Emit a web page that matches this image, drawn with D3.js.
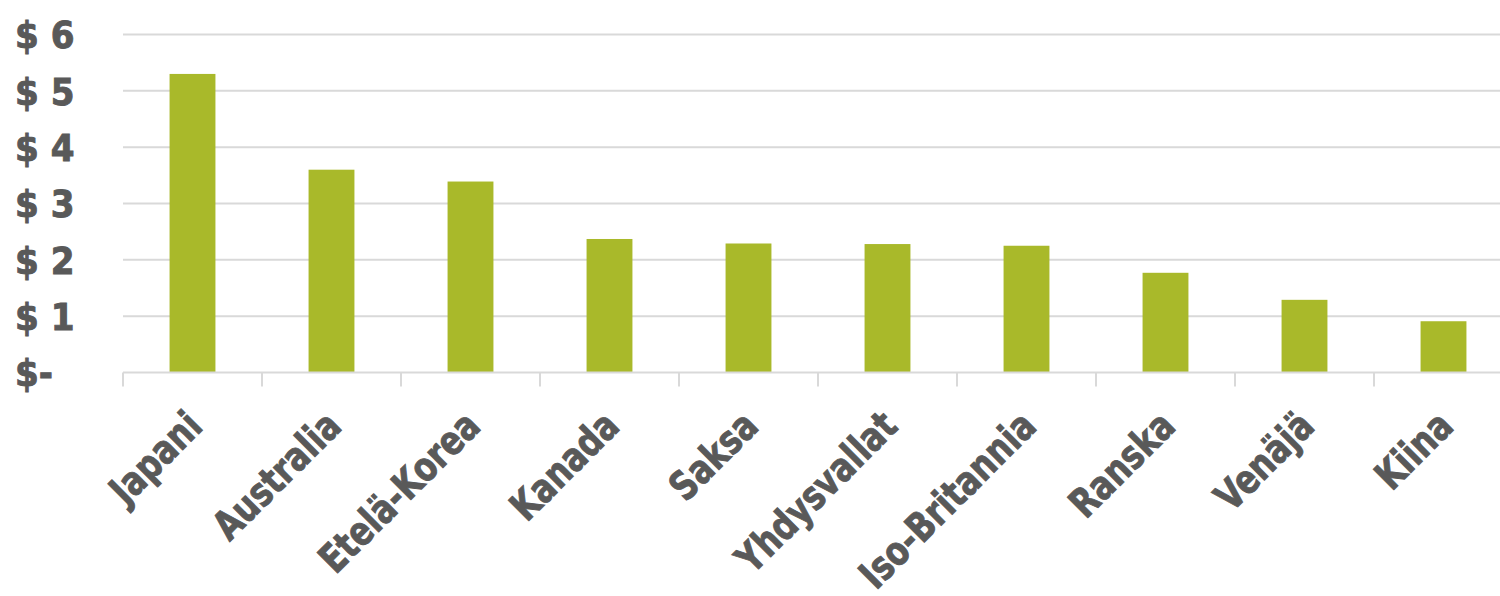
<!DOCTYPE html>
<html>
<head>
<meta charset="utf-8">
<script src="https://cdn.jsdelivr.net/npm/d3@7"></script>
<style>
  html, body { margin: 0; padding: 0; background: #fff; }
  svg { display: block; }
  text { font-family: "DejaVu Sans Condensed", "Liberation Sans Narrow", sans-serif; font-weight: bold; fill: #595959; stroke: #595959; stroke-width: 0.9px; }
</style>
</head>
<body>
<svg id="chart" width="1500" height="596"></svg>
<script>
// Countries and their values (USD)
const categories = ["Japani", "Australia", "Etelä-Korea", "Kanada", "Saksa", "Yhdysvallat", "Iso-Britannia", "Ranska", "Venäjä", "Kiina"];
const values = [5.30, 3.60, 3.39, 2.37, 2.29, 2.28, 2.25, 1.77, 1.29, 0.91];
const yTicks = [0, 1, 2, 3, 4, 5, 6];
const yTickLabels = ["$-", "$ 1", "$ 2", "$ 3", "$ 4", "$ 5", "$ 6"];

const svg = d3.select("#chart");
const W = 1500, H = 596;
const plot = { left: 123, right: 1513, top: 34.5, bottom: 372.5 };

const x = d3.scaleBand().domain(categories).range([plot.left, plot.right]).paddingInner(0.67).paddingOuter(0.335);
const xBand = d3.scaleBand().domain(categories).range([plot.left, plot.right]).padding(0);
const y = d3.scaleLinear().domain([0, 6]).range([plot.bottom, plot.top]);

// Horizontal gridlines
svg.append("g")
  .selectAll("line")
  .data(yTicks.filter(d => d > 0))
  .join("line")
  .attr("x1", plot.left).attr("x2", W)
  .attr("y1", d => y(d)).attr("y2", d => y(d))
  .attr("stroke", "#d9d9d9").attr("stroke-width", 2);

// Bars
svg.append("g")
  .selectAll("rect")
  .data(values)
  .join("rect")
  .attr("x", (d, i) => x(categories[i]))
  .attr("width", x.bandwidth())
  .attr("y", d => y(d))
  .attr("height", d => y(0) - y(d))
  .attr("fill", "#a9b92a");

// Category axis: baseline and boundary ticks
const xAxis = svg.append("g");
xAxis.append("line")
  .attr("x1", plot.left).attr("x2", W)
  .attr("y1", plot.bottom).attr("y2", plot.bottom)
  .attr("stroke", "#d9d9d9").attr("stroke-width", 2);
const boundaries = categories.map(c => xBand(c)).concat([plot.right]);
xAxis.selectAll("line.tick")
  .data(boundaries)
  .join("line")
  .attr("class", "tick")
  .attr("x1", d => d).attr("x2", d => d)
  .attr("y1", plot.bottom).attr("y2", plot.bottom + 14)
  .attr("stroke", "#d9d9d9").attr("stroke-width", 2);

// Rotated category labels (narrowed for a condensed look)
xAxis.selectAll("text")
  .data(categories)
  .join("text")
  .attr("transform", d => `translate(${xBand(d) + xBand.bandwidth() / 2 + 2},${plot.bottom + 46}) rotate(-45) scale(0.88,1)`)
  .attr("text-anchor", "end")
  .attr("dy", "0.35em")
  .style("font-size", "40px")
  .text(d => d);

// Value axis labels
const yAxis = svg.append("g")
  .call(d3.axisLeft(y).tickValues(yTicks).tickFormat((d, i) => yTickLabels[i]).tickSize(0));
yAxis.select(".domain").remove();
yAxis.selectAll("text")
  .attr("x", 15)
  .attr("text-anchor", "start")
  .attr("dy", "0.35em")
  .style("font-size", "38px")
  .style("font-family", null)
  .attr("fill", "#595959");
</script>
</body>
</html>
